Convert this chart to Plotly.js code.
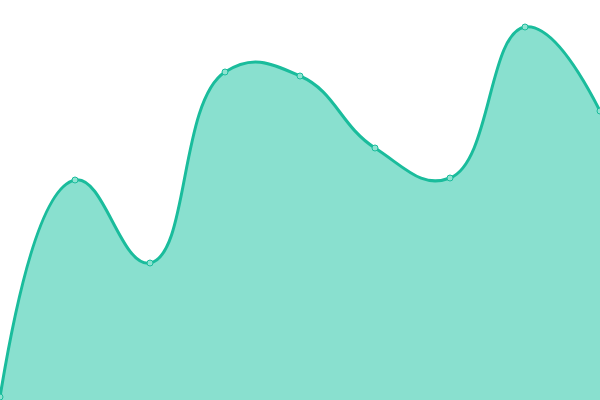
<!DOCTYPE html>
<html><head><meta charset="utf-8">
<script src="https://cdn.plot.ly/plotly-3.0.1.min.js"></script>
<style>html,body{margin:0;padding:0;background:#fff}#chart{width:600px;height:400px}</style>
</head><body><div id="chart"></div>
<script>
const xValues = [0, 1, 2, 3, 4, 5, 6, 7, 8];
const yValues = [3, 220, 137, 328, 324, 252, 222, 373, 289];

Plotly.newPlot('chart', [{
  x: xValues,
  y: yValues,
  type: 'scatter',
  mode: 'lines+markers',
  fill: 'tozeroy',
  fillcolor: '#89e0cf',
  line: {shape: 'spline', smoothing: 1.3, color: '#1abc9c', width: 3},
  marker: {size: 6, color: '#8ee3d1', line: {color: '#1abc9c', width: 1}},
  cliponaxis: false
}], {
  width: 600, height: 400,
  margin: {l: 0, r: 0, t: 0, b: 0},
  paper_bgcolor: '#fff', plot_bgcolor: '#fff',
  showlegend: false,
  xaxis: {range: [0, 8], visible: false, fixedrange: true},
  yaxis: {range: [0, 400], visible: false, fixedrange: true}
}, {displayModeBar: false, staticPlot: true});
</script></body></html>
